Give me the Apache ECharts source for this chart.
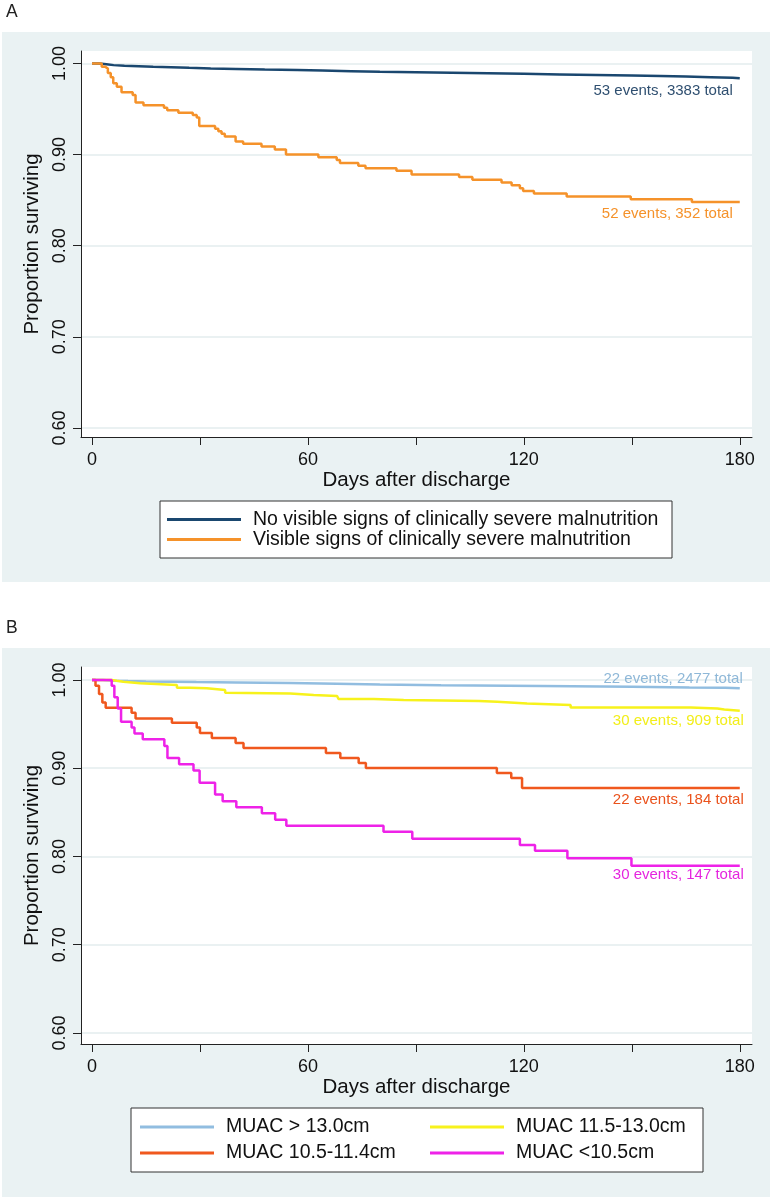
<!DOCTYPE html>
<html><head><meta charset="utf-8">
<script src="https://cdn.jsdelivr.net/npm/echarts@6/dist/echarts.min.js"></script>
<style>html,body{margin:0;padding:0;background:#fff;}#c{width:774px;height:1199px;}</style>
</head><body><div id="c"></div>
<script>
// ---- tick labels / titles ----
const xTickValues = [0, 30, 60, 90, 120, 150, 180];
const xLabelValues = [0, 60, 120, 180];
const yTickValues = [0.6, 0.7, 0.8, 0.9, 1.0];
const panelLetters = ['A', 'B'];
const xTitle = 'Days after discharge';
const yTitle = 'Proportion surviving';

// ---- Panel A ----
const namesA = ['No visible signs of clinically severe malnutrition', 'Visible signs of clinically severe malnutrition'];
const labelsA = ['53 events, 3383 total', '52 events, 352 total'];
const noSignsDays = [0, 2, 4, 6, 9, 13, 17, 22, 27, 33, 40, 48, 57, 64, 72, 80, 90, 100, 110, 120, 130, 140, 150, 158, 165, 172, 178, 180];
const noSignsSurv = [1.0, 0.9991, 0.9982, 0.9976, 0.9970, 0.9964, 0.9958, 0.9952, 0.9946, 0.9940, 0.9934, 0.9928, 0.9922, 0.9916, 0.9910, 0.9904, 0.9898, 0.9892, 0.9886, 0.9880, 0.9874, 0.9868, 0.9862, 0.9856, 0.9850, 0.9844, 0.9838, 0.9838];
const signsDays = [0, 2.7, 3.6, 4.4, 5.2, 5.9, 6.9, 8.2, 11.3, 12.1, 14.3, 20.0, 20.9, 24.0, 28.0, 29.1, 29.8, 34.2, 35.1, 36.0, 36.9, 39.9, 42.0, 47.1, 50.8, 53.9, 62.9, 68.0, 68.9, 74.0, 76.0, 84.6, 88.8, 102.0, 105.7, 113.8, 116.6, 118.9, 119.8, 122.8, 131.9, 149.7, 166.7, 180];
const signsSurv = [1.0, 0.9965, 0.9945, 0.9895, 0.9850, 0.9782, 0.9745, 0.9683, 0.9653, 0.9572, 0.9542, 0.9513, 0.9487, 0.9458, 0.9435, 0.9406, 0.9314, 0.9284, 0.9255, 0.9229, 0.9199, 0.9144, 0.9118, 0.9089, 0.9055, 0.9000, 0.8970, 0.8941, 0.8908, 0.8878, 0.8849, 0.8823, 0.8782, 0.8753, 0.8723, 0.8694, 0.8664, 0.8631, 0.8601, 0.8572, 0.8539, 0.8509, 0.8480, 0.8480];

// ---- Panel B ----
const namesB = ['MUAC > 13.0cm', 'MUAC 11.5-13.0cm', 'MUAC 10.5-11.4cm', 'MUAC <10.5cm'];
const labelsB = ['22 events, 2477 total', '30 events, 909 total', '22 events, 184 total', '30 events, 147 total'];
const muac1Days = [0, 3, 6, 10, 15, 22, 29, 40, 55, 68, 80, 97, 125, 150, 166, 176, 180];
const muac1Surv = [1.0, 0.9992, 0.9988, 0.9984, 0.9980, 0.9976, 0.9972, 0.9966, 0.9956, 0.9948, 0.9940, 0.9932, 0.9924, 0.9916, 0.9912, 0.9905, 0.9905];
const muac2Days = [0, 5.5, 6.9, 8.7, 13.4, 23.6, 27.3, 31.9, 37.0, 37.5, 55.1, 61.6, 68.1, 68.5, 78.3, 86.6, 107.5, 112.6, 120.9, 133.0, 166.4, 173.8, 175.7, 180];
const muac2Surv = [1.0, 0.9990, 0.9981, 0.9962, 0.9943, 0.9913, 0.9905, 0.9886, 0.9856, 0.9848, 0.9829, 0.9818, 0.9803, 0.9784, 0.9772, 0.9761, 0.9753, 0.9734, 0.9715, 0.9689, 0.9677, 0.9666, 0.9651, 0.9651];
const muac3Days = [0, 0.97, 1.95, 2.87, 3.8, 11.0, 12.1, 22.2, 29.1, 30.0, 33.3, 39.9, 42.1, 65.0, 69.0, 74.1, 76.1, 112.5, 116.5, 119.5, 180];
const muac3Surv = [1.0, 0.9935, 0.9841, 0.9746, 0.9685, 0.9628, 0.9564, 0.9514, 0.9461, 0.9400, 0.9343, 0.9287, 0.9230, 0.9173, 0.9116, 0.9059, 0.9002, 0.8945, 0.8890, 0.8776, 0.8776];
const muac4Days = [0, 5.47, 6.21, 7.14, 8.07, 11.0, 11.8, 14.1, 20.1, 20.96, 24.2, 28.2, 29.9, 34.2, 36.3, 40.1, 47.2, 50.9, 54.0, 81.0, 89.0, 118.9, 123.1, 132.1, 149.9, 180];
const muac4Surv = [1.0, 0.9935, 0.9803, 0.9677, 0.9526, 0.9461, 0.9393, 0.9328, 0.9252, 0.9116, 0.9044, 0.8975, 0.8835, 0.8702, 0.8626, 0.8558, 0.8490, 0.8417, 0.8349, 0.8281, 0.8200, 0.8129, 0.8065, 0.7981, 0.7894, 0.7894];

const FONT = '"Liberation Sans", Arial, Helvetica, sans-serif';
const BG = '#eaf2f3';
const colorsA = ['#1a476f', '#f5922a'];
const labelColorsA = ['#2f4f70', '#f5922a'];
const colorsB = ['#91bde0', '#f7f21c', '#f0581e', '#ee22e8'];
const labelColorsB = ['#8fb8d8', '#f2ee1a', '#ea521c', '#e524df'];

function pairs(d, v) { return d.map((x, i) => [x, v[i]]); }

function mkSeries(name, days, vals, color, gi, label, lcolor, off) {
  return {
    name: name, type: 'line', step: 'end', xAxisIndex: gi, yAxisIndex: gi,
    data: pairs(days, vals), symbol: 'none', showSymbol: false,
    lineStyle: { color: color, width: 2.5 }, itemStyle: { color: color },
    emphasis: { disabled: true }, animation: false,
    markPoint: {
      symbol: 'circle', symbolSize: 0, silent: true, animation: false,
      data: [{ coord: [days[days.length - 1], vals[vals.length - 1]],
        label: { show: true, formatter: label, position: 'inside', align: 'right', verticalAlign: 'middle',
          offset: off, color: lcolor, fontSize: 15, fontFamily: FONT } }]
    }
  };
}

function xAx(gi) {
  return {
    type: 'value', gridIndex: gi, min: -3.06, max: 183.4,
    name: xTitle, nameLocation: 'middle', nameGap: 33,
    nameTextStyle: { fontSize: 20.5, fontFamily: FONT, color: '#111' },
    axisLine: { show: true, onZero: false, lineStyle: { color: '#222', width: 1 } },
    axisTick: { show: true, length: 8, customValues: xTickValues, lineStyle: { color: '#222', width: 1 } },
    axisLabel: { show: true, customValues: xLabelValues, margin: 14, fontSize: 18, fontFamily: FONT, color: '#111' },
    splitLine: { show: false }
  };
}
function yAx(gi, mn, mx) {
  return {
    type: 'value', gridIndex: gi, min: mn, max: mx, splitNumber: 4,
    name: yTitle, nameLocation: 'middle', nameGap: 37,
    nameTextStyle: { fontSize: 20.5, fontFamily: FONT, color: '#111' },
    axisLine: { show: true, onZero: false, lineStyle: { color: '#222', width: 1 } },
    axisTick: { show: true, length: 8, customValues: yTickValues, lineStyle: { color: '#222', width: 1 } },
    axisLabel: { show: true, customValues: yTickValues, rotate: 90, margin: 12, fontSize: 18, fontFamily: FONT, color: '#111',
      formatter: v => Number(v).toFixed(2) },
    splitLine: { show: true, customValues: yTickValues, lineStyle: { color: '#e3ecee', width: 1.5 } }
  };
}

const series = [];
series.push(mkSeries(namesA[0], noSignsDays, noSignsSurv, colorsA[0], 0, labelsA[0], labelColorsA[0], [-7, 13]));
series.push(mkSeries(namesA[1], signsDays, signsSurv, colorsA[1], 0, labelsA[1], labelColorsA[1], [-7, 12]));
const bDays = [muac1Days, muac2Days, muac3Days, muac4Days];
const bSurv = [muac1Surv, muac2Surv, muac3Surv, muac4Surv];
const bOff = [[3, -9], [4, 10], [4, 12], [4, 9]];
for (let i = 0; i < 4; i++) series.push(mkSeries(namesB[i], bDays[i], bSurv[i], colorsB[i], 1, labelsB[i], labelColorsB[i], bOff[i]));

const legendText = { fontSize: 19.5, lineHeight: 19, fontFamily: FONT, color: '#111', padding: [0, 0, 0, 7] };

const option = {
  animation: false,
  backgroundColor: '#fff',
  graphic: [
    { type: 'rect', shape: { x: 2, y: 32, width: 768, height: 550 }, style: { fill: BG }, z: -10, silent: true },
    { type: 'rect', shape: { x: 2, y: 648, width: 768, height: 549 }, style: { fill: BG }, z: -10, silent: true },
    { type: 'text', left: 6, top: 3, style: { text: panelLetters[0], fontSize: 17.5, fontFamily: FONT, fill: '#222' }, z: 10 },
    { type: 'text', left: 6, top: 619, style: { text: panelLetters[1], fontSize: 17.5, fontFamily: FONT, fill: '#222' }, z: 10 }
  ],
  grid: [
    { left: 81, top: 51, right: 22, height: 386, show: true, backgroundColor: '#fff', borderWidth: 0 },
    { left: 81, top: 667, right: 22, height: 377, show: true, backgroundColor: '#fff', borderWidth: 0 }
  ],
  xAxis: [xAx(0), xAx(1)],
  yAxis: [yAx(0, 0.5901, 1.0137), yAx(1, 0.5875, 1.0147)],
  legend: [
    { data: namesA, orient: 'vertical', left: 160, top: 501, icon: 'rect', itemWidth: 74, itemHeight: 3, itemGap: 0,
      padding: [8.5, 9, 8.5, 7], backgroundColor: '#fff', borderColor: '#333', borderWidth: 1,
      selectedMode: false, textStyle: Object.assign({ width: 410 }, legendText) },
    { data: [
        { name: namesB[0], textStyle: { width: 198 } },
        { name: namesB[1], textStyle: { width: 176 } },
        { name: namesB[2], textStyle: { width: 198 } },
        { name: namesB[3], textStyle: { width: 176 } }
      ],
      orient: 'horizontal', left: 131, top: 1108, width: 560, icon: 'rect', itemWidth: 74, itemHeight: 3, itemGap: 6,
      padding: [9, 11, 9, 9], backgroundColor: '#fff', borderColor: '#333', borderWidth: 1,
      selectedMode: false, textStyle: legendText }
  ],
  series: series
};

const chart = echarts.init(document.getElementById('c'), null, { renderer: 'canvas' });
chart.setOption(option);
</script></body></html>
